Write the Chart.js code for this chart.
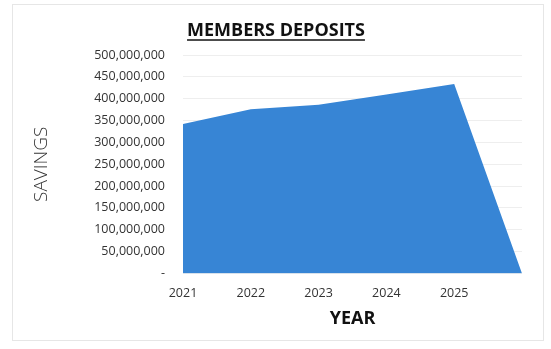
<!DOCTYPE html>
<html lang="en">
  <head>
    <meta charset="UTF-8" />
    <title>Members Deposits</title>
    <script src="https://cdn.jsdelivr.net/npm/chart.js"></script>
    <style>
      html, body { margin: 0; padding: 0; background: #fff; }
      .wrap { position: relative; width: 551px; height: 349px; }
      .frame {
        position: absolute; left: 12px; top: 4px; width: 530px; height: 335px;
        border: 1px solid #e6e6e6; pointer-events: none;
      }
    </style>
  </head>
  <body>
    <div class="wrap">
      <canvas id="depositsChart" width="551" height="349"></canvas>
      <div class="frame"></div>
    </div>

    <script>
      // data
      const years = ["2021", "2022", "2023", "2024", "2025", ""];
      const savings = [342000000, 376000000, 386000000, 410000000, 434000000, 0];
      const yTicks = [0, 50000000, 100000000, 150000000, 200000000, 250000000,
        300000000, 350000000, 400000000, 450000000, 500000000];

      // underline under the title
      const underlineTitle = {
        id: "underlineTitle",
        afterDraw(chart) {
          const t = chart.titleBlock;
          if (!t) return;
          const ctx = chart.ctx;
          ctx.save();
          ctx.font = "bold 18px 'Open Sans'";
          const w = ctx.measureText(chart.options.plugins.title.text).width;
          const cx = (t.left + t.right) / 2;
          ctx.strokeStyle = "#111";
          ctx.lineWidth = 1.5;
          ctx.beginPath();
          ctx.moveTo(cx - w / 2, 40);
          ctx.lineTo(cx + w / 2, 40);
          ctx.stroke();
          ctx.restore();
        },
      };

      const ctx = document.getElementById("depositsChart").getContext("2d");
      new Chart(ctx, {
        type: "line",
        data: {
          labels: years,
          datasets: [
            {
              label: "Savings",
              data: savings,
              fill: true,
              backgroundColor: "#3785d5",
              borderColor: "#3785d5",
              borderWidth: 0,
              pointRadius: 0,
              tension: 0,
            },
          ],
        },
        options: {
          responsive: false,
          animation: false,
          layout: { padding: { left: 30, right: 29, top: 0, bottom: 19 } },
          plugins: {
            legend: { display: false },
            tooltip: { enabled: false },
            title: {
              display: true,
              text: "MEMBERS DEPOSITS",
              color: "#111",
              font: { family: "'Open Sans'", size: 18, weight: "bold" },
              padding: { top: 20, bottom: 13.5 },
            },
          },
          scales: {
            x: {
              offset: false,
              grid: { display: false },
              border: { display: false },
              ticks: {
                color: "#333",
                font: { family: "'Open Sans'", size: 12.5 },
                padding: 5,
                maxRotation: 0,
              },
              title: {
                display: true,
                text: "YEAR",
                color: "#111",
                font: { family: "'Open Sans'", size: 18, weight: "bold" },
                padding: { top: 2, bottom: 0 },
              },
            },
            y: {
              min: 0,
              max: 500000000,
              afterBuildTicks(scale) {
                scale.ticks = yTicks.map((v) => ({ value: v }));
              },
              afterFit(scale) {
                scale.width = 153;
              },
              grid: { color: "#eeeeee", drawTicks: false },
              border: { display: false },
              ticks: {
                color: "#333",
                font: { family: "'Open Sans'", size: 12.5 },
                padding: 18,
                callback: (v) => (v === 0 ? "-" : v.toLocaleString("en-US")),
              },
              title: {
                display: true,
                text: "SAVINGS",
                color: "#333",
                font: { family: "'Open Sans'", size: 19, weight: "300" },
                padding: { top: 0, bottom: 0 },
              },
            },
          },
        },
        plugins: [underlineTitle],
      });
    </script>
  </body>
</html>
